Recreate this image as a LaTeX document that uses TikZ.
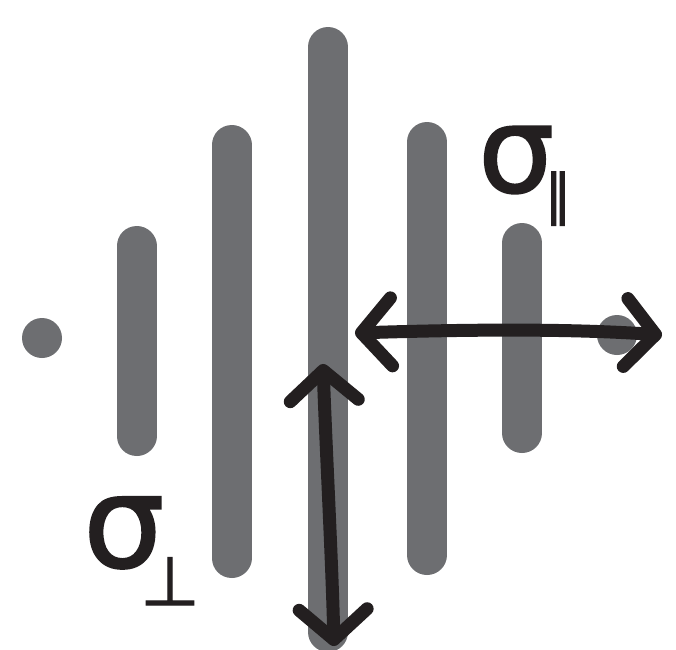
\documentclass[tikz,border=0pt]{standalone}
\usepackage{fontspec}
\setmainfont{DejaVu Sans}
\newfontfamily\sigfont[FakeBold=1.6]{DejaVu Sans}
\usetikzlibrary{arrows.meta}
\definecolor{bargray}{HTML}{6D6E71}
\definecolor{inkblack}{HTML}{231F20}
\begin{document}
\begin{tikzpicture}[x=1pt,y=-1pt,
 bar/.style={line width=40pt, line cap=round, draw=bargray},
 dot/.style={fill=bargray},
 ink/.style={draw=inkblack, line width=13pt, line cap=round, line join=round,
   {Straight Barb[length=30pt,width=68pt,round]}-{Straight Barb[length=30pt,width=68pt,round]}},
 lab/.style={text=inkblack, inner sep=0pt, anchor=base west}]
\useasboundingbox (0,0) rectangle (676,649);
\fill[white] (0,0) rectangle (676,649);
% dots and bars
\fill[dot] (42,338) circle[radius=20pt];
\draw[bar] (136.5,246) -- (136.5,436);
\draw[bar] (231.5,145) -- (231.5,558);
\draw[bar] (328,47) -- (328,632);
\draw[bar] (427,142) -- (427,555);
\draw[bar] (522,243) -- (522,433);
\fill[dot] (617,335) circle[radius=20pt];
% arrow ends
\coordinate (hL) at (355,333);
\coordinate (hR) at (662,335);
\coordinate (vT) at (323,364);
\coordinate (vB) at (334,646);
\draw[ink] (hL) .. controls (450,330) and (560,328) .. (hR);
\draw[ink] (vT) .. controls (326,450) and (332,560) .. (vB);
% labels
\node[lab] (sigpar) at (478,192) {\sigfont\fontsize{120}{120}\selectfont σ\kern-10pt\raisebox{-22pt}{\fontsize{55}{55}\selectfont ∥}};
\node[lab] (sigperp) at (83,567) {\sigfont\fontsize{128}{128}\selectfont σ\kern-24pt\raisebox{-38pt}{\fontsize{68}{68}\selectfont ⊥}};
\end{tikzpicture}
\end{document}
